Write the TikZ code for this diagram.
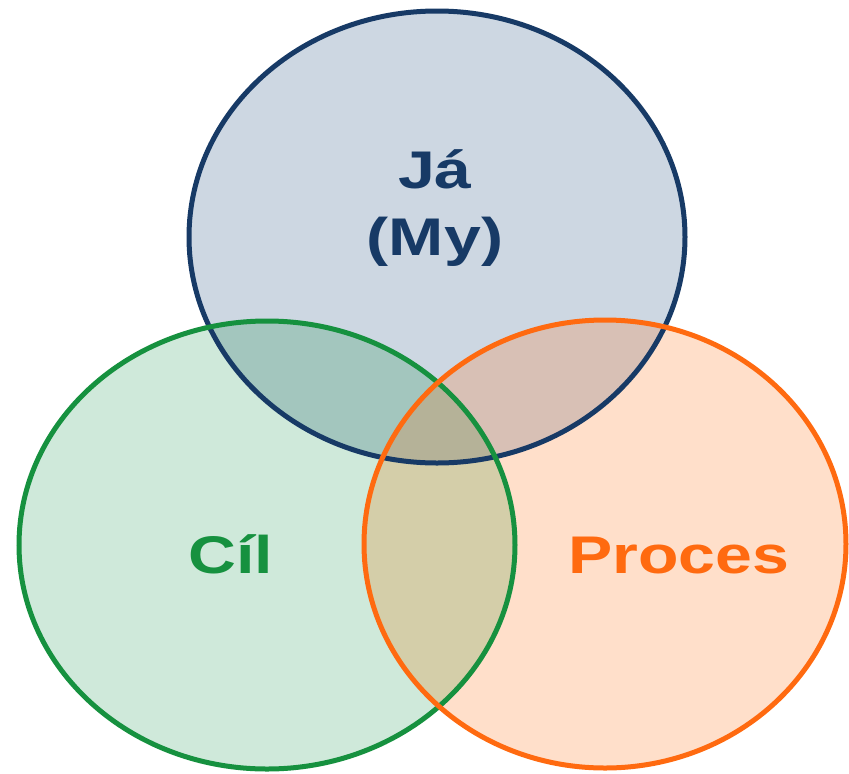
\documentclass[tikz,border=0pt]{standalone}
\usepackage{fontspec}
\setmainfont{Liberation Sans}
\definecolor{topfill}{HTML}{CDD7E2}
\definecolor{leftfill}{HTML}{CFE9DA}
\definecolor{rightfill}{HTML}{FFDFCA}
\definecolor{tlfill}{HTML}{A3C6BE}
\definecolor{trfill}{HTML}{D8C0B5}
\definecolor{lrfill}{HTML}{D4CEA9}
\definecolor{allfill}{HTML}{B5B298}
\definecolor{navy}{HTML}{173A66}
\definecolor{vgreen}{HTML}{16913F}
\definecolor{vorange}{HTML}{FF6A10}
\tikzset{
  ring/.style={line width=5pt},
  label/.style={font=\bfseries\fontsize{53}{67}\selectfont, xscale=1.25, align=center, inner sep=0pt}
}
\begin{document}
\begin{tikzpicture}[x=1pt,y=-1pt]
\useasboundingbox (0,0) rectangle (849,774);
\fill[white] (0,0) rectangle (849,774);
% the three sets
\def\topset{(437,237) ellipse [x radius=248, y radius=226]}
\def\leftset{(267,545) ellipse [x radius=248, y radius=224]}
\def\rightset{(605,544) ellipse [x radius=241, y radius=224]}
\fill[topfill] \topset;
\fill[leftfill] \leftset;
\fill[rightfill] \rightset;
% pairwise overlaps
\begin{scope}
  \clip \topset;
  \fill[tlfill] \leftset;
  \fill[trfill] \rightset;
\end{scope}
\begin{scope}
  \clip \leftset;
  \fill[lrfill] \rightset;
  \clip \rightset;
  \fill[allfill] \topset;
\end{scope}
% outlines
\draw[ring, navy] \topset;
\draw[ring, vgreen] \leftset;
\draw[ring, vorange] \rightset;
% labels
\node[label, text=navy] (me) at (435,208) {Já\\(My)};
\node[label, text=vgreen, anchor=base] (goal) at (231,573) {Cíl};
\node[label, text=vorange, anchor=base] (process) at (679,573) {Proces};
\end{tikzpicture}
\end{document}
